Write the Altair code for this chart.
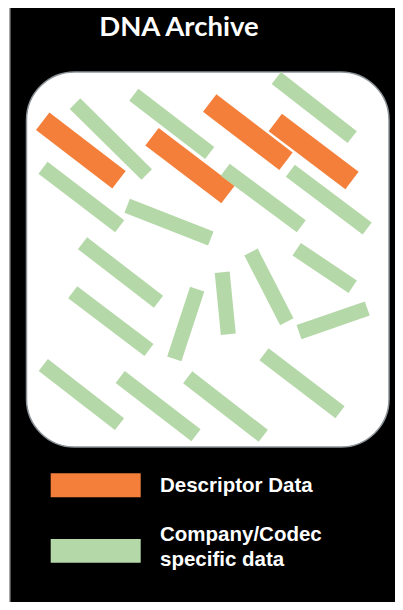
import altair as alt
import pandas as pd

# ---- data: bar centre-lines (x1, y1) -> (x2, y2), in picture pixel units ----
bar_kind = ["Descriptor Data"] * 4 + ["Company/Codec specific data"] * 18
bar_x1 = [42.7, 152.0, 209.7, 275.3,
          75.0, 133.8, 276.3, 43.0, 127.2, 225.2, 290.3,
          82.5, 72.7, 197.2, 222.2, 251.0, 296.7, 299.0,
          43.3, 120.2, 187.7, 264.0]
bar_y1 = [121.2, 136.7, 103.0, 122.5,
          103.7, 94.7, 78.0, 167.8, 205.8, 169.7, 170.8,
          243.2, 292.2, 289.2, 272.2, 252.0, 249.2, 332.2,
          365.0, 377.0, 377.3, 354.2]
bar_x2 = [119.0, 228.0, 286.0, 352.0,
          146.7, 209.7, 352.2, 119.7, 210.8, 301.3, 367.2,
          158.5, 149.0, 174.3, 228.3, 286.8, 352.7, 367.3,
          119.5, 196.0, 263.3, 340.0]
bar_y2 = [179.7, 194.5, 161.2, 180.5,
          174.5, 153.0, 137.2, 226.2, 238.5, 226.3, 228.5,
          301.7, 350.0, 358.8, 334.3, 321.7, 286.7, 308.5,
          424.2, 435.2, 435.8, 412.2]

kinds = ["Descriptor Data", "Company/Codec specific data"]
kind_colors = ["#F47F3A", "#B5D8A8"]
kind_widths = [22, 15]

title_text = "DNA Archive"
legend_labels = ["Descriptor  Data", "Company/Codec\nspecific data"]

# ---- scales: picture coordinates (page margin of 8px on each side) ----
W, H = 387, 594
xs = alt.Scale(domain=[8, 8 + W], range=[0, W], nice=False, zero=False)
ys = alt.Scale(domain=[8, 8 + H], range=[0, H], nice=False, zero=False)
X = lambda f: alt.X(f, type="quantitative", scale=xs, axis=None)
Y = lambda f: alt.Y(f, type="quantitative", scale=ys, axis=None)

bars = pd.DataFrame({"kind": bar_kind, "x1": bar_x1, "y1": bar_y1,
                     "x2": bar_x2, "y2": bar_y2, "order": range(len(bar_kind))})

frame = pd.DataFrame({"x": [9.0, 10.5], "x2": [420.0, 420.0],
                      "y": [4.0, 5.5], "y2": [620.0, 620.0],
                      "c": ["#A6A6A6", "#000000"]})
archive = pd.DataFrame({"x": [26.5], "x2": [389.0], "y": [72.0], "y2": [447.0]})

legend_sw = pd.DataFrame({"kind": kinds, "x": [50.7, 50.7], "x2": [140.7, 140.7],
                          "y": [473.3, 539.0], "y2": [497.3, 562.7]})
legend_tx = pd.DataFrame({"t": legend_labels, "x": [160, 160], "y": [491.5, 541]})
title_df = pd.DataFrame({"t": [title_text], "x": [179], "y": [36]})

frame_l = alt.Chart(frame).mark_rect().encode(
    x=X("x"), x2="x2", y=Y("y"), y2="y2",
    color=alt.Color("c:N", scale=None))

archive_l = alt.Chart(archive).mark_rect(
    fill="white", stroke="#8C9499", strokeWidth=1.5, cornerRadius=48
).encode(x=X("x"), x2="x2", y=Y("y"), y2="y2")

color_scale = alt.Scale(domain=kinds, range=kind_colors)

bars_l = alt.Chart(bars).mark_rule(strokeCap="butt").encode(
    x=X("x1"), y=Y("y1"), x2="x2", y2="y2",
    color=alt.Color("kind:N", scale=color_scale, legend=None),
    strokeWidth=alt.StrokeWidth("kind:N", scale=alt.Scale(domain=kinds, range=kind_widths), legend=None),
    order="order:Q")

sw_l = alt.Chart(legend_sw).mark_rect().encode(
    x=X("x"), x2="x2", y=Y("y"), y2="y2",
    color=alt.Color("kind:N", scale=color_scale, legend=None))

tx_l = alt.Chart(legend_tx).mark_text(
    align="left", baseline="alphabetic", color="white",
    font="Liberation Sans", fontWeight="bold", fontSize=20.5,
    lineBreak="\n", lineHeight=25
).encode(x=X("x"), y=Y("y"), text="t:N")

title_l = alt.Chart(title_df).mark_text(
    align="center", baseline="alphabetic", color="white",
    font="Lato", fontWeight="bold", fontSize=27.5
).encode(x=X("x"), y=Y("y"), text="t:N")

chart = alt.layer(frame_l, archive_l, bars_l, sw_l, tx_l, title_l).properties(
    width=W, height=H, padding=0, autosize=alt.AutoSizeParams(type="none"),
    background="white"
).configure_view(stroke=None)

chart.save("out.html", embed_options={"renderer": "svg", "actions": False})
